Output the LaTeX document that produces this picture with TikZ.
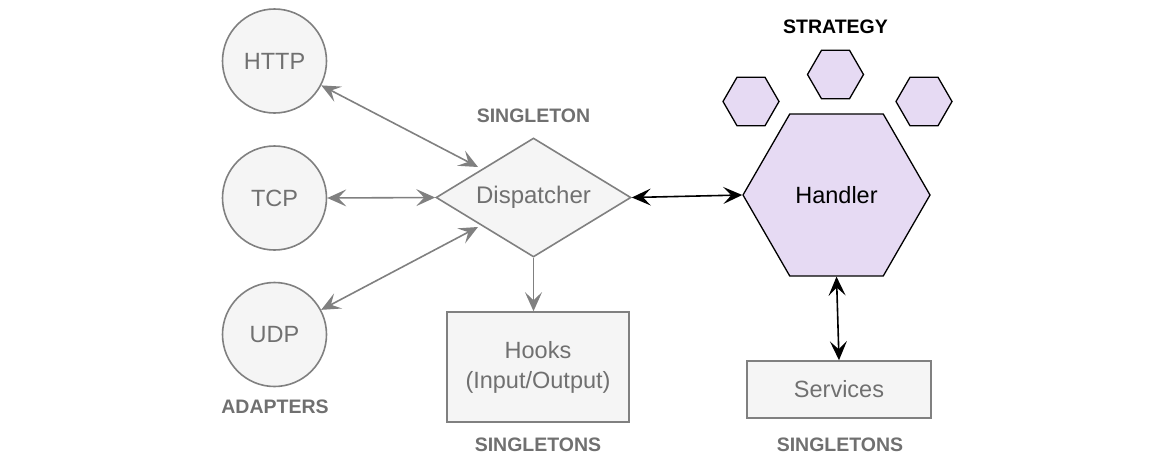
\documentclass[tikz,border=0pt]{standalone}
\usepackage{fontspec}
\setmainfont{Liberation Sans}
\usetikzlibrary{shapes.geometric,arrows.meta}
\definecolor{edgegray}{HTML}{808080}
\definecolor{boxfill}{HTML}{F5F5F5}
\definecolor{textgray}{HTML}{707070}
\definecolor{hexfill}{HTML}{E6DAF3}
\tikzset{
  x=1pt, y=-1pt,
  tip/.style={Stealth[length=19pt,width=17pt,inset=8pt]},
  adapter/.style={circle, draw=edgegray, fill=boxfill, line width=1.6pt,
    minimum size=104pt, inner sep=0pt, text=textgray, font=\fontsize{23.5}{27}\selectfont},
  graybox/.style={rectangle, draw=edgegray, fill=boxfill, line width=1.6pt,
    inner sep=0pt, text=textgray, align=center, font=\fontsize{23.5}{30}\selectfont},
  hexa/.style={regular polygon, regular polygon sides=6,
    draw=black, fill=hexfill, line width=1.3pt, inner sep=0pt},
  tag/.style={text=textgray, font=\fontsize{19.5}{23}\selectfont\bfseries},
  garrow/.style={draw=edgegray, line width=1.6pt, {Stealth[length=19pt,width=17pt,inset=8pt]}-{Stealth[length=19pt,width=17pt,inset=8pt]}},
  karrow/.style={draw=black, line width=1.6pt, {Stealth[length=19pt,width=17pt,inset=8pt]}-{Stealth[length=19pt,width=17pt,inset=8pt]}},
  oneway/.style={draw=edgegray, line width=1.6pt, -{Stealth[length=19pt,width=17pt,inset=8pt]}},
}
\begin{document}
\begin{tikzpicture}
\useasboundingbox (0,0) rectangle (1168,472);

% adapters
\node[adapter] (http) at (274.5,61) {HTTP};
\node[adapter] (tcp)  at (274.5,198) {TCP};
\node[adapter] (udp)  at (274.5,334.5) {UDP};
\node[tag] (adapters) at (275,407) {ADAPTERS};

% dispatcher diamond
\node[diamond, draw=edgegray, fill=boxfill, line width=1.6pt, aspect=1.64,
  minimum width=195pt, minimum height=119pt, inner sep=0pt, text=textgray,
  font=\fontsize{24}{27}\selectfont] (disp) at (533.5,197.5) {Dispatcher};
\node[tag] (singleton) at (533.5,116) {SINGLETON};

% hooks
\node[graybox, minimum width=182pt, minimum height=110pt] (hooks) at (538,367)
  {Hooks\\(Input/Output)};
\node[tag] (hooktag) at (538,445) {SINGLETONS};

% handler and strategies
\node[hexa, minimum size=187pt, font=\fontsize{23.5}{27}\selectfont] (handler) at (836.5,195) {Handler};
\node[hexa, minimum size=56pt] (s1) at (751,101.5) {};
\node[hexa, minimum size=56pt] (s2) at (835.5,74.5) {};
\node[hexa, minimum size=56pt] (s3) at (924,101.5) {};
\node[font=\fontsize{19.5}{23}\selectfont\bfseries] (strategy) at (835.5,27) {STRATEGY};

% services
\node[graybox, minimum width=184pt, minimum height=57pt] (services) at (839,389.5) {Services};
\node[tag] (servtag) at (840,445) {SINGLETONS};

% connectors
\coordinate (dnw) at (478,167);
\coordinate (dsw) at (478,227);
\draw[garrow] (http) -- (dnw);
\draw[garrow] (tcp.east) -- (disp.west);
\draw[garrow] (udp) -- (dsw);
\draw[oneway] (disp.south) -- (disp.south |- hooks.north);
\draw[karrow] (disp.east) -- (handler.west);
\draw[karrow] (handler.south) -- (services.north);
\end{tikzpicture}
\end{document}
